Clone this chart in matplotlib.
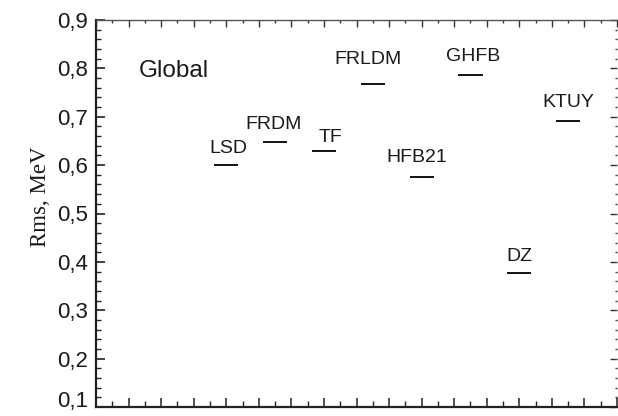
import matplotlib
matplotlib.use("Agg")
import matplotlib.pyplot as plt
from matplotlib.ticker import MultipleLocator, FuncFormatter

# ---- data ----
models = ["LSD", "FRDM", "TF", "FRLDM", "HFB21", "GHFB", "DZ", "KTUY"]
rms = [0.600, 0.647, 0.629, 0.768, 0.576, 0.786, 0.376, 0.691]
y_ticks = [0.1, 0.2, 0.3, 0.4, 0.5, 0.6, 0.7, 0.8, 0.9]
y_label = "Rms, MeV"
panel_label = "Global"

# ---- label offsets (pixels): dx, gap above line ----
label_dx = [2, -2, 7, -5, -4.5, 3, 0, 0]
label_gap = [12, 13, 9, 20, 15, 13.7, 12, 13.7]

DPI = 100
fig = plt.figure(figsize=(6.18, 4.16), dpi=DPI)
ax = fig.add_axes([96 / 618, 1 - 407 / 416, 521 / 618, 387 / 416])

x0, step, half = 4.0, 1.5, 0.37
xs = [x0 + step * i for i in range(len(models))]
ax.hlines(rms, [x - half for x in xs], [x + half for x in xs],
          colors="black", linewidth=1.3)

px2pt = 72 / DPI
for x, y, name, dx, gap in zip(xs, rms, models, label_dx, label_gap):
    ax.annotate(name, (x, y), xytext=(dx * px2pt, gap * px2pt),
                textcoords="offset points", ha="center", va="baseline",
                fontsize=14, family="Liberation Sans", color="#1a1a1a")

ax.text(1.30, 0.7816, panel_label, ha="left", va="baseline",
        fontsize=17.5, family="Liberation Sans", color="#1a1a1a")

ax.set_xlim(0, 16)
ax.set_ylim(0.1, 0.9)
ax.set_yticks(y_ticks)
ax.yaxis.set_minor_locator(MultipleLocator(0.02))
ax.xaxis.set_major_locator(MultipleLocator(1))
ax.xaxis.set_minor_locator(MultipleLocator(0.5))


def fmt(v):
    return f"{v:.1f}".replace(".", ",")


lowest = min(y_ticks)
ax.yaxis.set_major_formatter(
    FuncFormatter(lambda v, p: "" if abs(v - lowest) < 1e-9 else fmt(v)))
ax.set_xticklabels([])

TICK_FS = 16
TICK_PAD = 5.5
for lab in ax.get_yticklabels():
    lab.set_family("Liberation Sans")
ax.tick_params(axis="y", which="major", direction="in", length=6.5, width=1.2,
               labelsize=TICK_FS, pad=TICK_PAD, colors="#222222",
               labelcolor="#1a1a1a", left=True, right=False)
ax.tick_params(axis="y", which="minor", direction="in", length=3.4, width=1.0,
               left=True, right=False, colors="#222222")
ax.tick_params(axis="x", which="major", direction="in", length=6.7, width=1.1,
               bottom=True, top=False, labelbottom=False, colors="#222222")
ax.tick_params(axis="x", which="minor", direction="in", length=4.0, width=1.0,
               bottom=True, top=False, colors="#222222")

# lowest tick label drawn slightly raised so it stays inside the figure
ax.annotate(fmt(lowest), xy=(0, lowest), xycoords=ax.get_yaxis_transform(),
            xytext=(-TICK_PAD, 5 * px2pt), textcoords="offset points",
            ha="right", va="center", fontsize=TICK_FS,
            family="Liberation Sans", color="#1a1a1a", annotation_clip=False)

ax.spines["left"].set_linewidth(1.6)
ax.spines["bottom"].set_linewidth(1.6)
ax.spines["left"].set_color("#222222")
ax.spines["bottom"].set_color("#222222")
ax.spines["top"].set_linewidth(1.0)
ax.spines["top"].set_color("#555555")
ax.spines["right"].set_visible(False)

# right ticks (no spine)
sec_r = ax.secondary_yaxis("right")
sec_r.spines["right"].set_visible(False)
sec_r.set_yticks(y_ticks)
sec_r.yaxis.set_minor_locator(MultipleLocator(0.02))
sec_r.tick_params(axis="y", which="major", direction="in", length=5, width=1.0,
                  labelright=False, colors="#333333")
sec_r.tick_params(axis="y", which="minor", direction="in", length=1.5, width=1.0,
                  colors="#333333")

# top ticks
sec_t = ax.secondary_xaxis("top")
sec_t.spines["top"].set_visible(False)
sec_t.xaxis.set_major_locator(MultipleLocator(1))
sec_t.xaxis.set_minor_locator(MultipleLocator(0.5))
sec_t.tick_params(axis="x", which="major", direction="in", length=4.8, width=1.0,
                  labeltop=False, colors="#333333")
sec_t.tick_params(axis="x", which="minor", direction="in", length=2.4, width=1.0,
                  colors="#333333")

fig.text(41 / 618, 1 - 197 / 416, y_label, rotation=90, ha="center", va="center",
         family="Liberation Serif", fontsize=16.5, color="#1a1a1a")

fig.savefig("out.png", dpi=DPI)
